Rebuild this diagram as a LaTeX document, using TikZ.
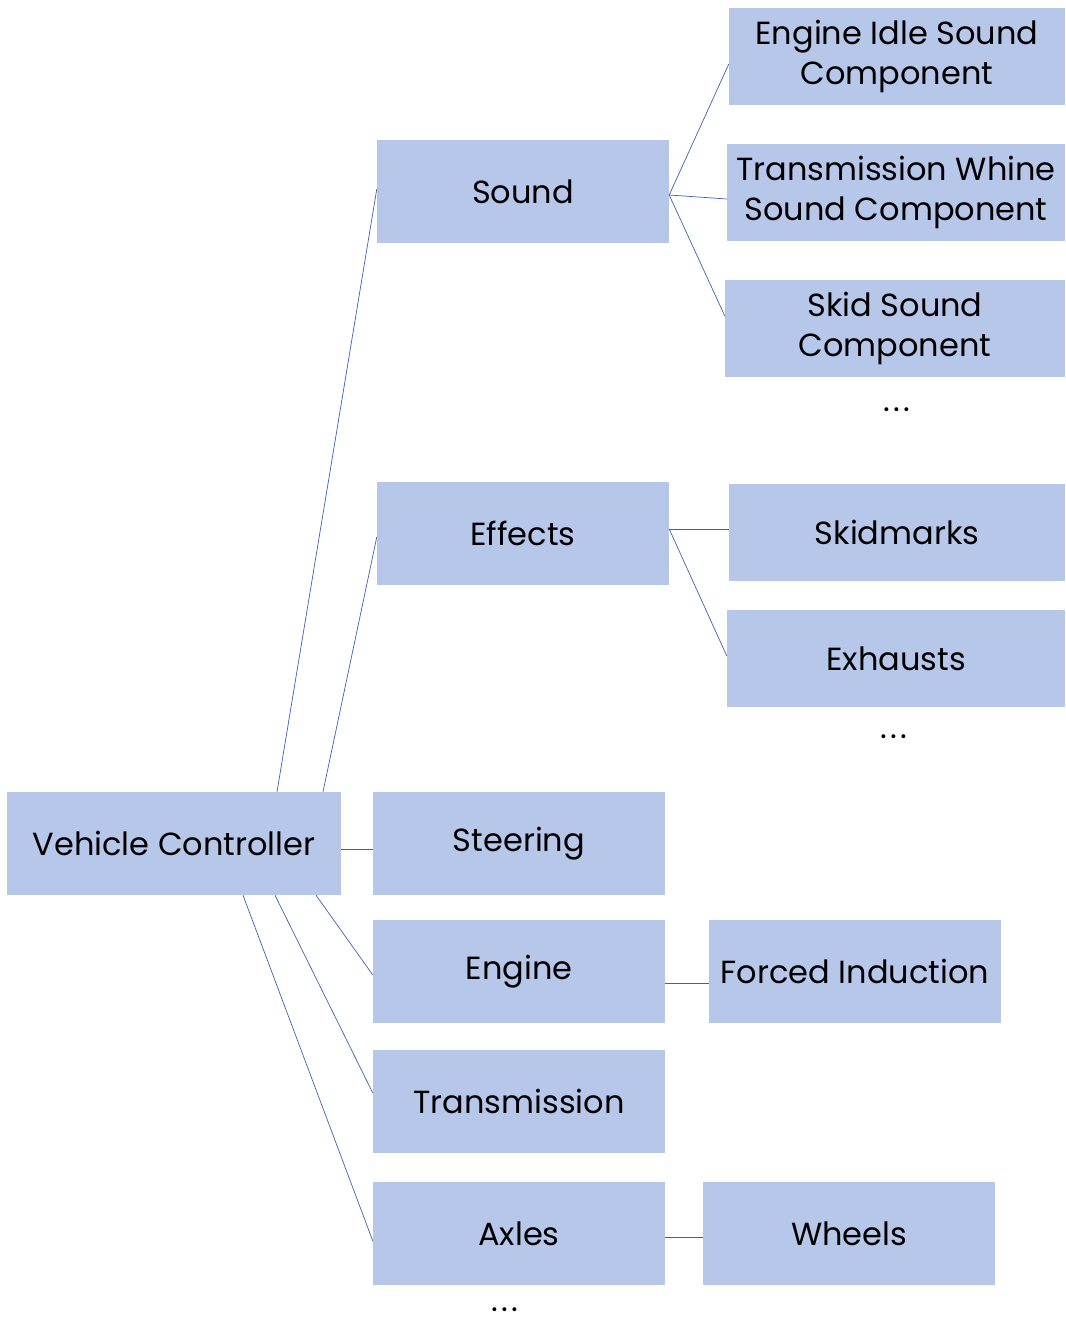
\documentclass[tikz,border=0pt]{standalone}
\usepackage{fontspec}
\setmainfont{Poppins}
\definecolor{boxFill}{RGB}{183,199,234}
\definecolor{linkBlue}{RGB}{58,98,176}
\usetikzlibrary{positioning}

\begin{document}
\begin{tikzpicture}[x=1pt,y=-1pt,
    part/.style={fill=boxFill, draw=none, inner sep=0pt, minimum width=292pt,
      minimum height=103pt, align=center, font=\fontsize{32}{40}\selectfont},
    leaf/.style={part, minimum height=97pt},
    more/.style={font=\fontsize{32}{40}\selectfont},
    link/.style={linkBlue, line width=0.7pt}]
  \useasboundingbox (0,0) rectangle (1065,1321);

  % root
  \node[part, minimum width=334pt] (vc) at (174,843.5) {Vehicle Controller};

  % first level
  \node[part] (sound) at (523,191.5) {Sound};
  \node[part] (effects) at (523,533.5) {Effects};
  \node[part] (steering) at (519,843.5) {Steering};
  \node[part] (engine) at (519,971.5) {Engine};
  \node[part] (trans) at (519,1101.5) {Transmission};
  \node[part] (axles) at (519,1233.5) {Axles};

  % second level
  \node[leaf, minimum width=336pt] (idle) at (897,56.5) {Engine Idle Sound\\Component};
  \node[leaf, minimum width=338pt] (whine) at (896,192.5) {Transmission Whine\\Sound Component};
  \node[leaf, minimum width=340pt] (skid) at (895,328.5) {Skid Sound\\Component};
  \node[more] (snddots) at (897,410) {.\hspace{3pt}.\hspace{3pt}.};
  \node[leaf, minimum width=336pt] (marks) at (897,532.5) {Skidmarks};
  \node[leaf, minimum width=338pt] (exhaust) at (896,658.5) {Exhausts};
  \node[more] (fxdots) at (894,737) {.\hspace{3pt}.\hspace{3pt}.};
  \node[part] (forced) at (855,971.5) {Forced Induction};
  \node[part] (wheels) at (849,1233.5) {Wheels};
  \node[more] (vcdots) at (505,1310) {.\hspace{3pt}.\hspace{3pt}.};

  % links
  \draw[link] ([xshift=103pt]vc.north) -- ([yshift=2.5pt]sound.west);
  \draw[link] ([xshift=149pt]vc.north) -- ([yshift=-3.5pt]effects.west);
  \draw[link] ([yshift=-5.5pt]vc.east) -- ([yshift=-5.5pt]steering.west);
  \draw[link] ([xshift=142pt]vc.south) -- ([yshift=-3.5pt]engine.west);
  \draw[link] ([xshift=101pt]vc.south) -- ([yshift=8.5pt]trans.west);
  \draw[link] ([xshift=69pt]vc.south) -- ([yshift=-7.5pt]axles.west);

  \draw[link] ([yshift=-3.5pt]sound.east) -- ([yshift=-7.5pt]idle.west);
  \draw[link] ([yshift=-3.5pt]sound.east) -- ([yshift=-6.5pt]whine.west);
  \draw[link] ([yshift=-3.5pt]sound.east) -- ([yshift=12.5pt]skid.west);
  \draw[link] ([yshift=4.5pt]effects.east) -- ([yshift=3.5pt]marks.west);
  \draw[link] ([yshift=4.5pt]effects.east) -- ([yshift=2.5pt]exhaust.west);
  \draw[link] ([yshift=-11.5pt]engine.east) -- ([yshift=-11.5pt]forced.west);
  \draw[link] ([yshift=-3.5pt]axles.east) -- ([yshift=-3.5pt]wheels.west);
\end{tikzpicture}
\end{document}
